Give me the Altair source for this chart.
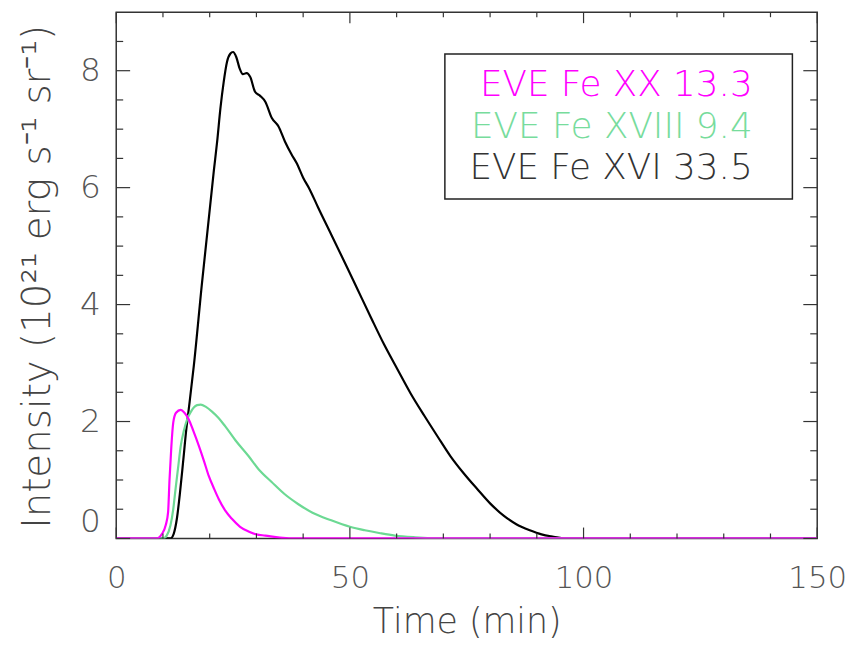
import altair as alt
import pandas as pd

# ---- data ----
series_names = ["EVE Fe XVI 33.5", "EVE Fe XVIII 9.4", "EVE Fe XX 13.3"]
series_colors = ["#000000", "#6cd993", "#ff00ff"]

fe16_t = [0, 11.0, 11.6, 12.3, 13.0, 13.6, 14.3, 15.0, 15.5, 16.6, 18.3, 20.9, 21.6, 22.3, 23.0,
          23.7, 24.4, 25.0, 25.7, 26.4, 27.1, 27.9, 28.7, 29.7, 30.8, 31.9, 33.3, 34.7, 36.1,
          37.5, 38.6, 40.0, 41.4, 43.2, 46.0, 48.9, 51.7, 54.5, 57.3, 60.2, 63.0, 66.0, 68.8,
          71.5, 74.3, 77.2, 80.0, 82.9, 85.7, 88.5, 91.0, 93.6, 96.0, 150]
fe16_v = [0, 0, 0.0, 0.08, 0.35, 0.75, 1.3, 1.87, 2.2, 2.95, 4.33, 6.3, 6.79, 7.36, 7.81,
          8.15, 8.29, 8.32, 8.23, 8.04, 7.94, 7.96, 7.89, 7.64, 7.57, 7.47, 7.19, 7.05, 6.79,
          6.57, 6.42, 6.17, 5.97, 5.66, 5.2, 4.72, 4.25, 3.78, 3.32, 2.89, 2.48, 2.09, 1.74,
          1.41, 1.12, 0.85, 0.6, 0.39, 0.24, 0.14, 0.07, 0.03, 0.0, 0]

fe18_t = [0, 10.0, 10.8, 11.6, 12.2, 12.7, 13.3, 13.8, 14.5, 15.2, 16.0, 16.6, 17.3, 18.1,
          19.2, 20.5, 21.9, 23.3, 25.5, 28.3, 30.5, 33.2, 36.0, 38.9, 42.0, 46.0, 50.0, 53.2,
          56.5, 59.6, 64.0, 70.0, 150]
fe18_v = [0, 0, 0.05, 0.22, 0.5, 0.85, 1.25, 1.58, 1.85, 2.04, 2.17, 2.24, 2.28, 2.29,
          2.25, 2.17, 2.06, 1.92, 1.68, 1.41, 1.18, 0.97, 0.76, 0.59, 0.44, 0.31, 0.2, 0.14,
          0.09, 0.05, 0.02, 0.0, 0]

fe20_t = [0, 8.5, 9.2, 9.8, 10.6, 11.1, 11.4, 11.8, 12.2, 12.8, 13.8, 14.6, 15.5, 16.5, 17.7,
          18.8, 19.8, 21.0, 21.9, 23.3, 24.7, 26.5, 28.3, 30.0, 31.9, 35.0, 39.0, 150]
fe20_v = [0, 0, 0.02, 0.08, 0.23, 0.45, 1.0, 1.58, 1.98, 2.15, 2.2, 2.15, 2.04, 1.84, 1.58,
          1.32, 1.07, 0.84, 0.68, 0.48, 0.34, 0.2, 0.12, 0.07, 0.05, 0.015, 0.0, 0]

x_major = [0, 50, 100, 150]
x_minor = [10, 20, 30, 40, 60, 70, 80, 90, 110, 120, 130, 140]
y_major = [0, 2, 4, 6, 8]
y_minor = [0.5, 1, 1.5, 2.5, 3, 3.5, 4.5, 5, 5.5, 6.5, 7, 7.5, 8.5]

x_title = "Time (min)"
y_title = "Intensity (10²¹ erg s⁻¹ sr⁻¹)"

# ---- build tables ----
rows = []
for name, ts, vs in [(series_names[0], fe16_t, fe16_v),
                     (series_names[1], fe18_t, fe18_v),
                     (series_names[2], fe20_t, fe20_v)]:
    for t, v in zip(ts, vs):
        rows.append({"series": name, "t": t, "v": v})
df = pd.DataFrame(rows)

W, H = 706, 530
FONT = "DejaVu Sans"
FS = 31

xscale = alt.Scale(domain=[0, 150], nice=False, zero=False)
yscale = alt.Scale(domain=[0, 9], nice=False)

lines = alt.Chart(df).mark_line(strokeWidth=2.2, interpolate="monotone", clip=True).encode(
    x=alt.X("t:Q", scale=xscale,
            axis=alt.Axis(values=x_major, format="d", grid=False, domain=False, ticks=False,
                          tickSize=0, labelFont=FONT, labelFontSize=FS, labelFontWeight=200,
                          labelColor="#555555", labelPadding=25, labelFlush=False,
                          title=x_title, titleFont=FONT, titleFontSize=35,
                          titleFontWeight=200, titleColor="#444444",
                          titleX=353, titleY=95, titleBaseline="alphabetic",
                          titleAlign="center")),
    y=alt.Y("v:Q", scale=yscale,
            axis=alt.Axis(values=y_major, format="d", grid=False, domain=False, ticks=False,
                          tickSize=0, labelFont=FONT, labelFontSize=FS + 2, labelFontWeight=200,
                          labelColor="#555555", labelPadding=16, labelFlush=True,
                          title=y_title, titleFont=FONT, titleFontSize=39,
                          titleFontWeight=200, titleColor="#444444",
                          titleAngle=-90, titleX=-67, titleY=266,
                          titleBaseline="alphabetic", titleAlign="center")),
    color=alt.Color("series:N", scale=alt.Scale(domain=series_names, range=series_colors),
                    legend=None),
    detail="series:N",
)

layers = []
# one layer per series so the drawing order is black, green, magenta
for name in series_names:
    layers.append(lines.transform_filter(alt.datum.series == name))

TICK = "#333333"
def tick_layer(vals, chan, **kw):
    d = pd.DataFrame({"p": vals})
    if chan == "x":
        enc = dict(x=alt.X("p:Q", scale=xscale), **kw)
    else:
        enc = dict(y=alt.Y("p:Q", scale=yscale), **kw)
    return alt.Chart(d).mark_rule(color=TICK, strokeWidth=1.2).encode(**enc)

layers += [
    tick_layer(x_major, "x", y=alt.value(H), y2=alt.value(H - 11)),
    tick_layer(x_minor, "x", y=alt.value(H), y2=alt.value(H - 5)),
    tick_layer(x_major, "x", y=alt.value(0), y2=alt.value(11)),
    tick_layer(x_minor, "x", y=alt.value(0), y2=alt.value(5)),
    tick_layer(y_major, "y", x=alt.value(0), x2=alt.value(14)),
    tick_layer(y_minor, "y", x=alt.value(0), x2=alt.value(7)),
    tick_layer(y_major, "y", x=alt.value(W), x2=alt.value(W - 14)),
    tick_layer(y_minor, "y", x=alt.value(W), x2=alt.value(W - 7)),
]

# legend box
box_df = pd.DataFrame({"k": [0]})
layers.append(alt.Chart(box_df).mark_rect(filled=False, stroke="#222222", strokeWidth=1.5).encode(
    x=alt.value(331), x2=alt.value(681), y=alt.value(42), y2=alt.value(188)))

legend_order = [series_names[2], series_names[1], series_names[0]]
legend_colors = [series_colors[2], "#77dc9c", "#333333"]
legend_y = [84, 127, 168]
for name, col, yy in zip(legend_order, legend_colors, legend_y):
    layers.append(alt.Chart(box_df).mark_text(
        font=FONT, fontSize=36, fontWeight=200, color=col, align="right",
        baseline="alphabetic").encode(x=alt.value(641), y=alt.value(yy), text=alt.value(name)))

chart = alt.layer(*layers).properties(
    width=W, height=H,
    autosize=alt.AutoSizeParams(type="none"),
    padding={"left": 109, "top": 2, "right": 30, "bottom": 100},
).configure_view(stroke="#333333", strokeWidth=1.5)

chart.save("out.html", embed_options={"renderer": "svg", "actions": False})
